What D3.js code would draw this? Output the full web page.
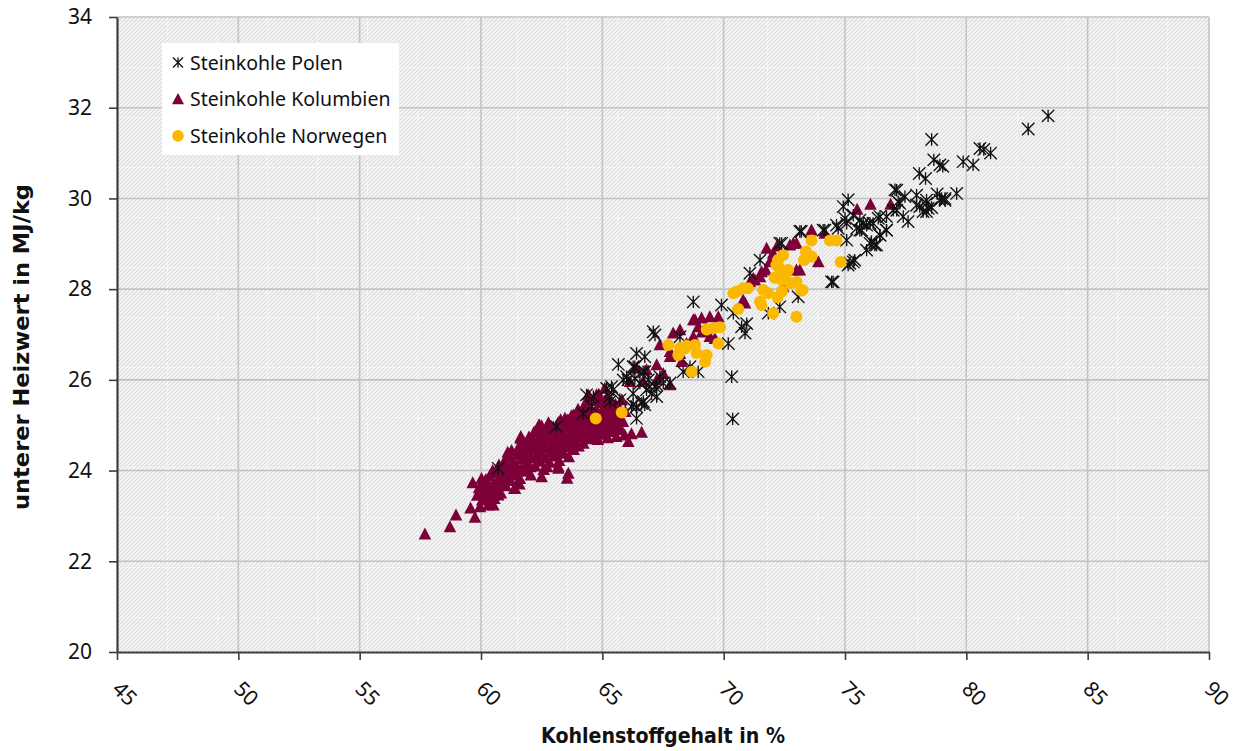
<!DOCTYPE html>
<html>
<head>
<meta charset="utf-8">
<script src="https://cdn.jsdelivr.net/npm/d3@7"></script>
<style>
  body { margin: 0; background: #ffffff; }
  svg { display: block; }
</style>
</head>
<body>
<svg id="chart" width="1241" height="751"></svg>
<script>
// Axis ticks
const xTicks = [45, 50, 55, 60, 65, 70, 75, 80, 85, 90];
const yTicks = [20, 22, 24, 26, 28, 30, 32, 34];
const seriesNames = ["Steinkohle Polen", "Steinkohle Kolumbien", "Steinkohle Norwegen"];
const xTitle = "Kohlenstoffgehalt in %";
const yTitle = "unterer Heizwert in MJ/kg";

// Kohlenstoffgehalt (%) / unterer Heizwert (MJ/kg) per sample
const polen = [
  [83.37,31.82],[82.55,31.53],[78.57,31.30],[80.56,31.10],[80.72,31.08],[81.00,31.00],[78.66,30.85],[78.91,30.74],
  [79.03,30.71],[79.87,30.81],[80.28,30.74],[78.06,30.55],[78.32,30.44],[79.60,30.11],[78.98,30.00],[79.12,29.96],
  [78.36,29.89],[78.43,29.78],[78.22,29.71],[78.57,29.80],[77.13,30.18],[77.47,30.04],[77.95,30.07],[77.26,29.89],
  [76.99,29.74],[77.60,29.49],[76.44,29.60],[76.71,29.30],[76.03,29.01],[76.30,28.97],[75.89,28.86],[75.20,28.57],
  [75.40,28.64],[75.07,29.45],[75.13,29.97],[74.93,29.82],[75.61,29.30],[75.75,29.45],[76.16,29.45],[74.45,28.16],
  [73.14,29.27],[74.10,29.30],[74.72,29.34],[75.07,29.08],[75.00,29.56],[75.34,29.63],[75.61,29.52],[75.48,29.34],
  [76.03,29.45],[76.37,29.56],[76.71,29.60],[77.06,30.19],[77.19,29.93],[78.08,29.82],[78.36,29.71],[77.13,29.74],
  [77.40,29.60],[76.44,29.19],[76.09,29.05],[76.23,28.97],[75.13,28.53],[75.34,28.60],[75.68,29.30],[75.89,29.41],
  [74.65,29.41],[74.17,29.30],[73.20,29.27],[72.31,29.01],[72.39,29.01],[71.50,28.64],[71.08,28.35],[73.07,27.83],
  [72.31,27.61],[71.84,27.47],[74.51,28.16],[69.91,27.65],[68.75,27.72],[70.40,27.47],[70.95,27.24],[70.74,27.17],
  [70.88,27.03],[70.19,26.80],[70.33,26.07],[70.37,25.14],[68.20,26.95],[68.61,26.29],[68.95,26.18],[67.10,27.06],
  [67.17,26.99],[65.66,26.34],[66.41,26.58],[66.75,26.51],[66.34,26.29],[66.68,26.18],[66.06,26.00],[66.89,26.00],
  [66.55,25.93],[67.37,26.07],[67.79,25.93],[68.33,26.18],[67.24,25.89],[65.18,25.81],[65.45,25.78],[64.35,25.67],
  [64.63,25.63],[65.31,25.52],[65.72,25.56],[64.21,25.26],[66.27,25.70],[66.82,25.78],[67.03,25.70],[67.24,25.63],
  [66.69,25.52],[66.41,25.41],[67.17,25.85],[67.51,25.93],[65.38,25.85],[65.86,26.00],[66.27,26.29],[66.75,26.18],
  [66.00,26.07],[66.34,26.03],[66.96,25.85],[66.20,25.41],[66.62,25.48],[66.41,25.15],[66.75,25.45],[64.56,25.41],
  [65.31,25.63],[63.11,24.97],[60.71,24.05],[66.27,25.45],[78.91,29.96],[79.12,30.00],[78.36,29.96],[76.71,29.30],
  [76.44,29.19],[77.95,29.85],[78.80,30.10]
];

const kolumbien = [
  [57.69,22.60],[58.72,22.76],[58.97,23.02],[59.75,22.97],[59.57,23.17],[59.66,23.73],[59.96,23.20],[60.30,23.24],
  [60.51,23.24],[60.20,23.80],[60.03,23.50],[60.37,23.50],[60.71,23.46],[61.40,23.60],[61.63,24.71],[61.26,24.44],
  [62.39,25.00],[63.55,23.83],[62.50,23.86],[63.19,24.05],[65.10,25.81],[64.42,25.67],[64.76,25.67],[65.80,25.56],
  [66.07,24.64],[66.20,24.81],[66.62,24.84],[65.72,25.12],[62.40,25.00],[61.64,24.75],[60.92,24.16],[60.64,23.97],
  [63.46,25.15],[63.80,25.22],[64.15,25.26],[63.18,24.09],[63.60,23.94],
  [59.84,23.45],[59.92,23.62],[60.05,23.35],[60.10,23.55],[60.18,23.72],[60.02,23.82],
  [60.25,23.40],[60.31,23.60],[60.36,23.88],[60.44,23.52],[60.50,23.70],[60.57,23.95],[60.55,23.38],[60.48,24.00],
  [60.66,23.62],[60.70,23.80],[60.78,24.02],[60.82,23.50],[60.88,23.74],[60.95,23.92],[60.98,24.20],[60.74,24.12],
  [61.03,23.66],[61.08,23.85],[61.12,24.08],[61.18,24.30],[61.22,23.78],[61.28,23.98],[61.33,24.18],[61.37,23.60],[61.10,24.40],
  [61.44,23.90],[61.47,24.10],[61.52,24.34],[61.56,24.52],[61.60,23.82],[61.64,24.02],[61.68,24.25],[61.73,24.44],[61.77,24.62],[61.58,23.70],
  [61.82,23.98],[61.86,24.16],[61.90,24.38],[61.94,24.56],[61.98,24.74],[62.03,24.08],[62.07,24.28],[62.11,24.47],[62.15,24.66],[62.19,24.85],[62.05,23.90],
  [62.23,24.10],[62.27,24.32],[62.31,24.52],[62.35,24.70],[62.39,24.90],[62.43,24.20],[62.47,24.42],[62.51,24.62],[62.55,24.80],[62.58,24.02],[62.50,24.98],
  [62.62,24.28],[62.66,24.50],[62.70,24.70],[62.74,24.88],[62.78,25.05],[62.82,24.18],[62.86,24.40],[62.90,24.60],[62.94,24.78],[62.98,24.96],[62.72,24.08],
  [63.02,24.32],[63.06,24.52],[63.10,24.70],[63.14,24.88],[63.18,25.06],[63.22,24.22],[63.26,24.44],[63.30,24.64],[63.34,24.82],[63.38,25.00],[63.28,25.12],
  [63.42,24.38],[63.46,24.58],[63.50,24.76],[63.54,24.95],[63.58,25.12],[63.62,24.30],[63.66,24.52],[63.70,24.70],[63.74,24.88],[63.78,25.06],[63.72,25.20],
  [63.82,24.46],[63.86,24.64],[63.90,24.82],[63.94,25.00],[63.98,25.18],[64.02,24.54],[64.06,24.74],[64.10,24.92],[64.14,25.10],[64.18,25.30],[64.00,25.35],
  [64.22,24.60],[64.26,24.80],[64.30,25.00],[64.34,25.18],[64.38,25.38],[64.42,25.55],[64.46,24.70],[64.50,24.90],[64.54,25.10],[64.58,25.30],[64.30,25.48],
  [64.62,24.76],[64.66,24.96],[64.70,25.15],[64.74,25.35],[64.78,25.55],[64.82,24.68],[64.86,24.88],[64.90,25.08],[64.94,25.28],[64.98,25.50],[64.85,25.68],
  [65.02,24.80],[65.06,25.00],[65.10,25.20],[65.14,25.40],[65.18,25.60],[65.22,24.72],[65.26,24.92],[65.30,25.12],[65.34,25.32],[65.38,25.52],
  [65.42,24.86],[65.46,25.06],[65.50,25.26],[65.54,25.46],[65.58,24.75],[65.62,24.96],[65.66,25.18],[65.70,25.38],[65.78,24.90],
  [65.85,25.08],[65.92,24.78],[65.95,25.30],
  [66.14,25.96],[66.41,26.25],[66.68,25.96],[66.82,26.22],[67.24,26.00],[67.51,26.14],[67.79,25.89],[67.24,26.33],
  [67.79,26.51],[67.37,26.77],[67.79,26.62],[67.92,27.03],[68.20,27.10],[68.20,26.58],[68.47,26.80],[68.75,26.95],
  [68.75,27.32],[68.95,27.17],[69.09,27.36],[69.43,27.39],[69.64,26.91],[69.43,26.95],[69.78,27.39],[68.61,26.80],
  [68.27,26.40],[68.82,27.32],[69.10,27.05],
  [70.88,27.69],[71.08,28.16],[71.22,28.24],[71.29,28.20],[71.50,28.27],[71.56,28.38],[71.74,28.42],[71.77,28.90],
  [72.04,28.79],[72.31,28.42],[72.45,28.05],[72.73,28.97],[72.87,29.01],[73.00,29.01],[73.00,28.42],[73.62,29.30],
  [73.90,28.60],[74.17,29.23],[73.14,28.42],[70.80,27.76],[75.50,29.76],[76.05,29.87],[76.88,29.87],[71.90,28.60],
  [72.20,28.95]
];

const norwegen = [
  [64.73,25.15],[65.80,25.28],[67.72,26.77],[68.20,26.70],[68.47,26.75],[68.82,26.77],[68.13,26.55],[68.88,26.59],
  [69.30,26.55],[69.23,26.40],[68.68,26.18],[68.40,26.69],[69.30,27.11],[69.57,27.14],[69.85,27.16],[69.78,26.80],
  [70.53,27.95],[70.40,27.91],[70.80,28.02],[71.00,28.02],[70.60,27.56],[71.56,27.65],[72.04,27.47],[73.00,27.39],
  [72.22,27.82],[73.20,27.97],[71.63,27.98],[71.84,27.91],[72.45,28.75],[72.17,28.53],[72.31,28.46],[72.66,28.42],
  [72.73,28.13],[72.39,28.20],[73.00,28.16],[73.25,27.98],[73.39,28.83],[73.62,28.72],[73.31,28.64],[73.62,29.07],
  [74.38,29.07],[74.65,29.07],[74.82,28.60],[72.25,28.65],[72.55,28.35],[72.10,28.25],[72.40,27.95],[71.50,27.72]
];

const colors = { polen: "#111111", kolumbien: "#7d0038", norwegen: "#fbb800" };

const svg = d3.select("#chart");
const plot = { left: 117, top: 17, right: 1209, bottom: 652 };

const x = d3.scaleLinear().domain([45, 90]).range([plot.left, plot.right]);
const y = d3.scaleLinear().domain([20, 34]).range([plot.bottom, plot.top]);

const defs = svg.append("defs");

// Diagonal hatch texture of the plot background
const hatch = defs.append("pattern")
  .attr("id", "hatch").attr("patternUnits", "userSpaceOnUse")
  .attr("width", 4).attr("height", 4);
hatch.append("rect").attr("width", 4).attr("height", 4).attr("fill", "#f5f5f5");
hatch.append("path")
  .attr("d", "M-1,1 L1,-1 M0,4 L4,0 M3,5 L5,3")
  .attr("stroke", "#dcdcdc").attr("stroke-width", 1.05);

// Faint tile seams of the texture
const seams = defs.append("pattern")
  .attr("id", "seams").attr("patternUnits", "userSpaceOnUse")
  .attr("x", plot.left).attr("y", plot.top)
  .attr("width", 50).attr("height", 50);
seams.append("path")
  .attr("d", "M0.5,0 V50 M0,0.5 H50")
  .attr("stroke", "#ffffff").attr("stroke-width", 1)
  .attr("stroke-dasharray", "3,2").attr("opacity", 0.7);

svg.append("rect")
  .attr("x", plot.left).attr("y", plot.top)
  .attr("width", plot.right - plot.left).attr("height", plot.bottom - plot.top)
  .attr("fill", "url(#hatch)");
svg.append("rect")
  .attr("x", plot.left).attr("y", plot.top)
  .attr("width", plot.right - plot.left).attr("height", plot.bottom - plot.top)
  .attr("fill", "url(#seams)");

// Major gridlines
const grid = svg.append("g").attr("stroke", "#c3c3c3").attr("stroke-width", 1.6);
grid.selectAll("line.v").data(xTicks.slice(1)).join("line")
  .attr("class", "v")
  .attr("x1", d => x(d)).attr("x2", d => x(d))
  .attr("y1", plot.top).attr("y2", plot.bottom);
grid.selectAll("line.h").data(yTicks.slice(1)).join("line")
  .attr("class", "h")
  .attr("x1", plot.left).attr("x2", plot.right)
  .attr("y1", d => y(d)).attr("y2", d => y(d));

// Axes
const tickFont = "'Noto Sans', 'Open Sans', sans-serif";

const yAxis = svg.append("g")
  .attr("transform", `translate(${plot.left},0)`)
  .call(d3.axisLeft(y).tickValues(yTicks).tickSize(8).tickSizeOuter(0).tickPadding(17));
yAxis.select(".domain").attr("stroke", "#3d3d3d").attr("stroke-width", 2.2);
yAxis.selectAll(".tick line").attr("stroke", "#3d3d3d").attr("stroke-width", 1.6);
yAxis.selectAll(".tick text")
  .attr("fill", "#111").style("font-family", tickFont).style("font-size", "21px");

const xAxis = svg.append("g")
  .attr("transform", `translate(0,${plot.bottom})`)
  .call(d3.axisBottom(x).tickValues(xTicks).tickSize(8).tickSizeOuter(0));
xAxis.select(".domain").attr("stroke", "#3d3d3d").attr("stroke-width", 2.2);
xAxis.selectAll(".tick line").attr("stroke", "#3d3d3d").attr("stroke-width", 1.6);
xAxis.selectAll(".tick text")
  .attr("x", 0).attr("y", 0).attr("dy", "0.35em")
  .attr("text-anchor", "start")
  .attr("transform", "translate(-1,33) rotate(45)")
  .attr("fill", "#111").style("font-family", tickFont).style("font-size", "21px");

// Axis titles
const titleFont = "'Liberation Sans Narrow', 'DejaVu Sans Condensed', 'Roboto', sans-serif";
svg.append("text")
  .attr("x", 663).attr("y", 743)
  .attr("text-anchor", "middle")
  .attr("textLength", 244).attr("lengthAdjust", "spacingAndGlyphs")
  .style("font-family", titleFont).style("font-weight", "bold").style("font-size", "22px")
  .attr("fill", "#111")
  .text(xTitle);
svg.append("text")
  .attr("transform", "translate(29,347) rotate(-90)")
  .attr("text-anchor", "middle")
  .attr("textLength", 326).attr("lengthAdjust", "spacingAndGlyphs")
  .style("font-family", titleFont).style("font-weight", "bold").style("font-size", "22px")
  .attr("fill", "#111")
  .text(yTitle);

// Marker shapes
const starPath = s => `M${-s},${-s}L${s},${s}M${-s},${s}L${s},${-s}M0,${-s}L0,${s}`;
const triPath = s => `M0,${-s * 1.05}L${s},${s * 0.85}L${-s},${s * 0.85}Z`;

const marks = svg.append("g");

marks.append("g").selectAll("path").data(kolumbien).join("path")
  .attr("transform", d => `translate(${x(d[0])},${y(d[1])})`)
  .attr("d", triPath(6.3))
  .attr("fill", colors.kolumbien);

marks.append("g").selectAll("path").data(polen).join("path")
  .attr("transform", d => `translate(${x(d[0])},${y(d[1])})`)
  .attr("d", starPath(6.2))
  .attr("fill", "none").attr("stroke", colors.polen).attr("stroke-width", 1.35);

marks.append("g").selectAll("circle").data(norwegen).join("circle")
  .attr("cx", d => x(d[0])).attr("cy", d => y(d[1]))
  .attr("r", 6)
  .attr("fill", colors.norwegen);

// Legend
const legend = svg.append("g");
legend.append("rect")
  .attr("x", 162).attr("y", 43).attr("width", 237).attr("height", 112)
  .attr("fill", "#ffffff");
const legendRows = legend.selectAll("g.row").data(seriesNames).join("g")
  .attr("class", "row")
  .attr("transform", (d, i) => `translate(178,${62.5 + i * 36.7})`);
legendRows.append("text")
  .attr("x", 12).attr("y", 7)
  .style("font-family", tickFont).style("font-size", "19.5px")
  .attr("fill", "#111")
  .text(d => d);
legendRows.filter((d, i) => i === 0).append("path")
  .attr("d", starPath(5)).attr("fill", "none")
  .attr("stroke", colors.polen).attr("stroke-width", 1.3);
legendRows.filter((d, i) => i === 1).append("path")
  .attr("d", triPath(6)).attr("fill", colors.kolumbien);
legendRows.filter((d, i) => i === 2).append("circle")
  .attr("r", 5.8).attr("fill", colors.norwegen);
</script>
</body>
</html>
